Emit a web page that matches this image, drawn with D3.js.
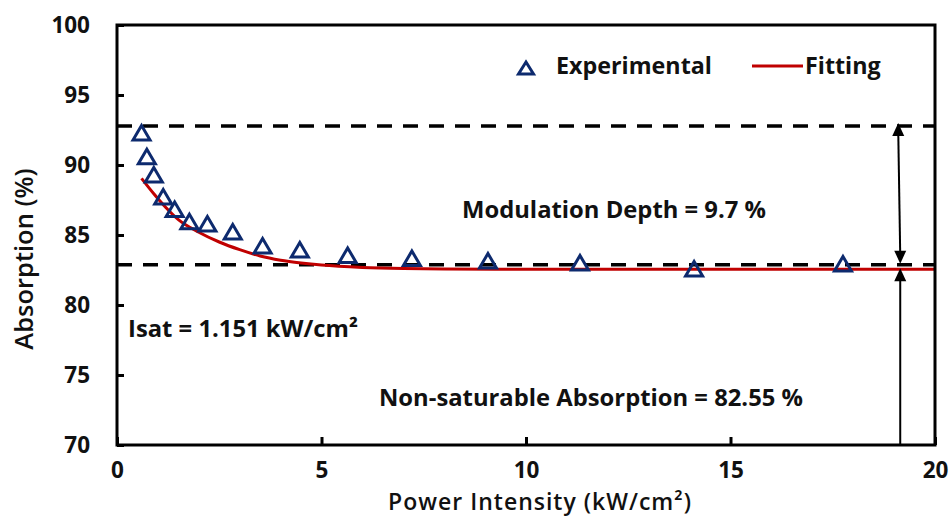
<!DOCTYPE html>
<html>
<head>
<meta charset="utf-8">
<script src="https://cdn.jsdelivr.net/npm/d3@7"></script>
<style>
  html, body { margin: 0; padding: 0; background: #fff; }
  text { font-family: "Open Sans", Lato, sans-serif; fill: #111; }
</style>
</head>
<body>
<div id="chart"></div>
<script>
// data
const powerIntensity = [0.60, 0.73, 0.90, 1.13, 1.41, 1.77, 2.21, 2.83, 3.56, 4.47, 5.64, 7.21, 9.07, 11.32, 14.11, 17.75];
const absorption = [92.29, 90.59, 89.29, 87.71, 86.82, 85.95, 85.79, 85.21, 84.21, 83.93, 83.54, 83.32, 83.14, 83.00, 82.57, 82.93];

const fitIntensity = [0.6, 0.9, 1.2, 1.5, 2.0, 2.5, 3.0, 3.5, 4.0, 4.5, 5.0, 6.0, 7.0, 8.0, 10, 14, 20];
const fitAbsorption = [89.05, 87.95, 86.95, 86.1, 85.2, 84.5, 83.95, 83.5, 83.2, 83.0, 82.85, 82.68, 82.6, 82.57, 82.55, 82.55, 82.55];

const xTicks = [0, 5, 10, 15, 20];
const yTicks = [70, 75, 80, 85, 90, 95, 100];

// dashed guide levels and arrow position (data units)
const guideLevels = [92.78, 82.88];
const arrowX = 19.15;
const nonSatLevel = 82.55;

(function() {
    const W = 950, H = 517;
    const margin = { top: 25, right: 15, bottom: 72, left: 117 };
    const w = W - margin.left - margin.right;
    const h = H - margin.top - margin.bottom;

    const svg = d3.select("#chart")
        .append("svg")
        .attr("width", W)
        .attr("height", H);

    const g = svg.append("g")
        .attr("transform", `translate(${margin.left},${margin.top})`);

    const x = d3.scaleLinear().domain([0, 20]).range([0, w]);
    const y = d3.scaleLinear().domain([70, 100]).range([h, 0]);

    // dashed guides
    g.selectAll(".guide")
        .data(guideLevels)
        .enter()
        .append("line")
        .attr("x1", 0)
        .attr("x2", w)
        .attr("y1", d => y(d))
        .attr("y2", d => y(d))
        .attr("stroke", "#000")
        .attr("stroke-width", 3.5)
        .attr("stroke-dasharray", "15,11");

    // fitting curve
    const fitData = fitIntensity.map((d, i) => [d, fitAbsorption[i]]);
    g.append("path")
        .datum(fitData)
        .attr("fill", "none")
        .attr("stroke", "#C00000")
        .attr("stroke-width", 3)
        .attr("d", d3.line().x(d => x(d[0])).y(d => y(d[1])).curve(d3.curveMonotoneX));

    // arrows
    const head = (cx, cy, dir) => {
        // dir = -1 points up, 1 points down
        return `M${cx},${cy} L${cx - 6},${cy - dir * 13} L${cx + 6},${cy - dir * 13} Z`;
    };
    const ax = x(arrowX);
    const top1 = y(guideLevels[0]) - 3, bot1 = y(guideLevels[1]) - 1;
    g.append("line")
        .attr("x1", ax - 2).attr("x2", ax)
        .attr("y1", top1 + 8).attr("y2", bot1 - 8)
        .attr("stroke", "#000").attr("stroke-width", 2);
    g.append("path").attr("d", head(ax - 2, top1, -1)).attr("fill", "#000");
    g.append("path").attr("d", head(ax, bot1, 1)).attr("fill", "#000");

    const top2 = y(nonSatLevel) - 1;
    g.append("line")
        .attr("x1", ax).attr("x2", ax)
        .attr("y1", top2 + 8).attr("y2", h)
        .attr("stroke", "#000").attr("stroke-width", 2);
    g.append("path").attr("d", head(ax, top2, -1)).attr("fill", "#000");

    // experimental markers
    const tri = "M0,-7.5 L8.5,7 L-8.5,7 Z";
    g.selectAll(".pt")
        .data(powerIntensity)
        .enter()
        .append("path")
        .attr("class", "pt")
        .attr("d", tri)
        .attr("transform", (d, i) => `translate(${x(d)},${y(absorption[i])})`)
        .attr("fill", "none")
        .attr("stroke", "#0D2A6E")
        .attr("stroke-width", 3)
        .attr("stroke-linejoin", "miter");

    // axes
    const yAxis = g.append("g")
        .call(d3.axisLeft(y).tickValues(yTicks).tickSizeInner(-7).tickSizeOuter(0).tickPadding(27));
    const xAxis = g.append("g")
        .attr("transform", `translate(0,${h})`)
        .call(d3.axisBottom(x).tickValues(xTicks).tickSizeInner(-8).tickSizeOuter(0).tickPadding(17));
    [xAxis, yAxis].forEach(a => {
        a.select(".domain").remove();
        a.selectAll("line").attr("stroke", "#000").attr("stroke-width", 3);
        a.selectAll("text")
            .style("font-family", "'Open Sans', Lato, sans-serif")
            .style("font-size", "22.5px")
            .style("font-weight", "700")
            .attr("fill", "#111");
    });

    // frame
    g.append("rect")
        .attr("x", 0).attr("y", 0)
        .attr("width", w).attr("height", h)
        .attr("fill", "none")
        .attr("stroke", "#000")
        .attr("stroke-width", 3);

    // axis titles
    svg.append("text")
        .attr("x", 540)
        .attr("y", 510)
        .attr("text-anchor", "middle")
        .style("font-size", "23px")
        .style("letter-spacing", "1px")
        .style("font-weight", "600")
        .text("Power Intensity (kW/cm²)");

    svg.append("text")
        .attr("transform", "rotate(-90)")
        .attr("x", -259)
        .attr("y", 33)
        .attr("text-anchor", "middle")
        .style("font-size", "25.5px")
        .style("font-weight", "600")
        .text("Absorption (%)");

    // annotations
    const notes = [
        { t: "Modulation Depth = 9.7 %", x: 462, y: 218 },
        { t: "Isat = 1.151 kW/cm²", x: 128, y: 337 },
        { t: "Non-saturable Absorption = 82.55 %", x: 379, y: 406 }
    ];
    svg.selectAll(".note")
        .data(notes)
        .enter()
        .append("text")
        .attr("x", d => d.x)
        .attr("y", d => d.y)
        .style("font-size", "23.8px")
        .style("font-weight", "700")
        .text(d => d.t);

    // legend
    svg.append("path")
        .attr("d", "M0,-6 L7.5,6 L-7.5,6 Z")
        .attr("transform", "translate(526,68)")
        .attr("fill", "none")
        .attr("stroke", "#0D2A6E")
        .attr("stroke-width", 3);
    svg.append("text")
        .attr("x", 556).attr("y", 74)
        .style("font-size", "23.3px")
        .style("font-weight", "700")
        .text("Experimental");
    svg.append("line")
        .attr("x1", 752).attr("x2", 803)
        .attr("y1", 66).attr("y2", 66)
        .attr("stroke", "#C00000")
        .attr("stroke-width", 3);
    svg.append("text")
        .attr("x", 805).attr("y", 74)
        .style("font-size", "23.3px")
        .style("font-weight", "700")
        .text("Fitting");
})();
</script>
</body>
</html>
